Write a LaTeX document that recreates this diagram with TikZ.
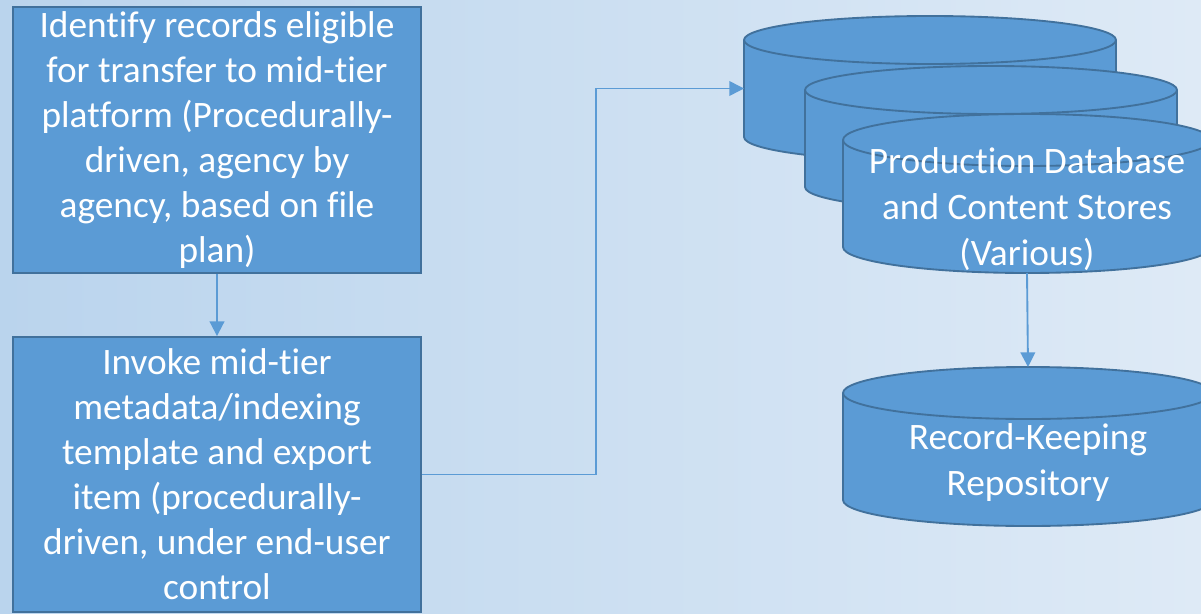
\documentclass[tikz,border=0pt]{standalone}
\usepackage{fontspec}
\setmainfont[Ligatures=NoCommon]{Carlito}
\usetikzlibrary{arrows.meta}
\definecolor{bgleft}{RGB}{186,212,237}
\definecolor{bgright}{RGB}{222,234,246}
\definecolor{boxfill}{RGB}{91,155,213}
\definecolor{boxline}{RGB}{65,113,156}
\tikzset{
  procbox/.style={draw=boxline,line width=1.4pt,fill=boxfill,text=white,
    align=center,minimum width=408*0.75pt,inner sep=0pt,
    font=\fontsize{28}{33.8}\selectfont},
  storebody/.style={inner sep=0pt,outer sep=0pt},
  storeline/.style={draw=boxline,line width=1.4pt,fill=boxfill},
  storetext/.style={text=white,align=center,inner sep=0pt,
    font=\fontsize{28}{34.5}\selectfont},
  flow/.style={draw=boxfill,line width=1.4pt,-{Triangle[length=11pt,width=11pt]}}
}
% #1 node, #2 x radius, #3 y radius (in px)
\newcommand{\drawstore}[3]{%
  \filldraw[storeline] ([yshift=-#3*\pu]#1.north west) -- ([yshift=#3*\pu]#1.south west)
    arc[start angle=180,end angle=360,x radius=#2*\pu,y radius=#3*\pu]
    -- ([yshift=-#3*\pu]#1.north east)
    arc[start angle=0,end angle=180,x radius=#2*\pu,y radius=#3*\pu] -- cycle;
  \draw[storeline,fill=none] ([yshift=-#3*\pu]#1.north west)
    arc[start angle=180,end angle=360,x radius=#2*\pu,y radius=#3*\pu];
}
\begin{document}
\begin{tikzpicture}[x=0.75pt,y=-0.75pt]
\def \pu{0.75pt}
\shade[left color=bgleft,right color=bgright] (0,0) rectangle (1201,613);
\useasboundingbox (0,0) rectangle (1201,613);

\node[procbox,minimum height=266*\pu] (identify) at (217,140)
  {Identify records eligible\\for transfer to mid-tier\\platform (Procedurally-\\driven, agency by\\agency, based on file\\plan)};
\node[procbox,minimum height=275*\pu] (invoke) at (217,474.5)
  {Invoke mid-tier\\metadata/indexing\\template and export\\item (procedurally-\\driven, under end-user\\control};

% stacked stores
\node[storebody,minimum width=372*\pu,minimum height=145*\pu] (store1) at (930,88.5) {};
\drawstore{store1}{186}{24}
\node[storebody,minimum width=372*\pu,minimum height=145*\pu] (store2) at (991,138.5) {};
\drawstore{store2}{186}{24}
\node[storebody,minimum width=368*\pu,minimum height=159*\pu] (prod) at (1027,193.5) {};
\drawstore{prod}{184}{26}
\node[storetext] (prodtext) at ([yshift=-15.5*\pu]prod.center)
  {Production Database\\and Content Stores\\(Various)};
\node[storebody,minimum width=370*\pu,minimum height=159*\pu] (repo) at (1028,446.5) {};
\drawstore{repo}{185}{26}
\node[storetext] (repotext) at ([yshift=-16*\pu]repo.center) {Record-Keeping\\Repository};

\coordinate (bend) at (596,0);
\draw[flow] (identify) -- (invoke);
\draw[flow,line width=1.1pt] (invoke.east) -| (bend |- store1.west) -- (store1.west);
\draw[flow] (prod.south) -- (repo.north);
\end{tikzpicture}
\end{document}
